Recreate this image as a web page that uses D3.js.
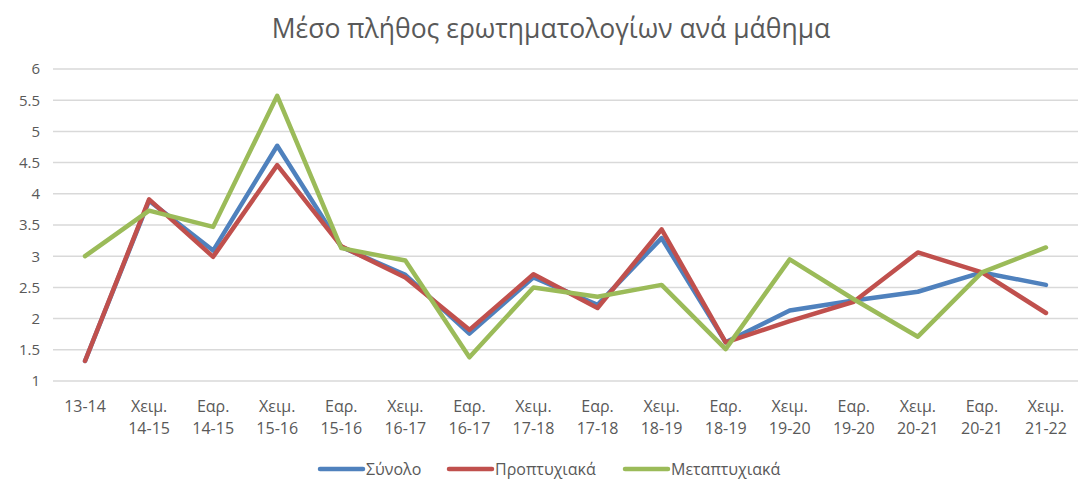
<!DOCTYPE html>
<html>
<head>
<meta charset="utf-8">
<script src="https://cdn.jsdelivr.net/npm/d3@7"></script>
<style>
  body { margin: 0; background: #fff; }
  svg text { font-family: "Open Sans", "DejaVu Sans", sans-serif; fill: #595959; }
</style>
</head>
<body>
<svg id="chart" width="1078" height="479"></svg>
<script>
// categories (two-line labels)
var categories = ["13-14", "Χειμ. 14-15", "Εαρ. 14-15", "Χειμ. 15-16", "Εαρ. 15-16", "Χειμ. 16-17",
  "Εαρ. 16-17", "Χειμ. 17-18", "Εαρ. 17-18", "Χειμ. 18-19", "Εαρ. 18-19", "Χειμ. 19-20",
  "Εαρ. 19-20", "Χειμ. 20-21", "Εαρ. 20-21", "Χειμ. 21-22"];

var total = [1.32, 3.89, 3.09, 4.77, 3.15, 2.70, 1.76, 2.66, 2.22, 3.29, 1.62, 2.13, 2.29, 2.43, 2.74, 2.54];
var undergrad = [1.32, 3.91, 2.99, 4.46, 3.16, 2.66, 1.82, 2.71, 2.17, 3.43, 1.62, 1.96, 2.27, 3.06, 2.74, 2.09];
var postgrad = [3.00, 3.73, 3.47, 5.57, 3.13, 2.93, 1.38, 2.50, 2.35, 2.54, 1.51, 2.95, 2.31, 1.71, 2.74, 3.14];

var yTicks = [1, 1.5, 2, 2.5, 3, 3.5, 4, 4.5, 5, 5.5, 6];

var series = [
  {name: "Σύνολο", values: total, color: "#4f81bd"},
  {name: "Προπτυχιακά", values: undergrad, color: "#c0504d"},
  {name: "Μεταπτυχιακά", values: postgrad, color: "#9bbb59"}
];

var svg = d3.select("#chart"),
    margin = {top: 69, right: 0, bottom: 98, left: 53},
    width = +svg.attr("width") - margin.left - margin.right,
    height = +svg.attr("height") - margin.top - margin.bottom,
    g = svg.append("g").attr("transform", "translate(" + margin.left + "," + margin.top + ")");

var xScale = d3.scaleBand().domain(categories).range([0, width]),
    yScale = d3.scaleLinear().domain([1, 6]).range([height, 0]);

// title
svg.append("text")
  .attr("x", 551)
  .attr("y", 38)
  .attr("text-anchor", "middle")
  .style("font-size", "26.5px")
  .text("Μέσο πλήθος ερωτηματολογίων ανά μάθημα");

// gridlines
g.append("g")
  .selectAll("line")
  .data(yTicks)
  .enter().append("line")
  .attr("x1", 0)
  .attr("x2", width)
  .attr("y1", function(d) { return yScale(d); })
  .attr("y2", function(d) { return yScale(d); })
  .attr("stroke", "#d9d9d9")
  .attr("stroke-width", 1.5);

// y axis
var yAxis = g.append("g")
  .call(d3.axisLeft(yScale).tickValues(yTicks).tickSize(0).tickPadding(13).tickFormat(d3.format("")));
yAxis.select(".domain").remove();
yAxis.selectAll("text").style("font-size", "15px").attr("fill", "#595959");

// x axis
var xAxis = g.append("g")
  .attr("transform", "translate(0," + height + ")")
  .call(d3.axisBottom(xScale).tickSize(0).tickFormat(""));
xAxis.select(".domain").remove();
xAxis.selectAll(".tick").each(function(d) {
  var parts = d.split(" ");
  var t = d3.select(this).append("text")
    .attr("text-anchor", "middle")
    .style("font-size", "16px");
  if (parts.length === 1) {
    t.attr("y", 31).text(parts[0]);
  } else {
    t.append("tspan").attr("x", 0).attr("y", 31).text(parts[0]);
    t.append("tspan").attr("x", 0).attr("y", 53).text(parts[1]);
  }
});

var line = d3.line()
  .x(function(d, i) { return xScale(categories[i]) + xScale.bandwidth() / 2; })
  .y(function(d) { return yScale(d); });

g.selectAll(".series")
  .data(series)
  .enter().append("path")
  .attr("class", "series")
  .attr("fill", "none")
  .attr("stroke", function(d) { return d.color; })
  .attr("stroke-width", 4.5)
  .attr("stroke-linejoin", "round")
  .attr("stroke-linecap", "round")
  .attr("d", function(d) { return line(d.values); });

// legend
var legendX = [320, 449, 625];
var legend = svg.append("g").attr("transform", "translate(0,469)");
var item = legend.selectAll(".legend-item")
  .data(series)
  .enter().append("g")
  .attr("class", "legend-item")
  .attr("transform", function(d, i) { return "translate(" + legendX[i] + ",0)"; });
item.append("line")
  .attr("x1", 0).attr("x2", 43)
  .attr("stroke", function(d) { return d.color; })
  .attr("stroke-width", 4.5)
  .attr("stroke-linecap", "round");
item.append("text")
  .attr("x", 46)
  .attr("dy", "0.35em")
  .style("font-size", "16px")
  .text(function(d) { return d.name; });
</script>
</body>
</html>
